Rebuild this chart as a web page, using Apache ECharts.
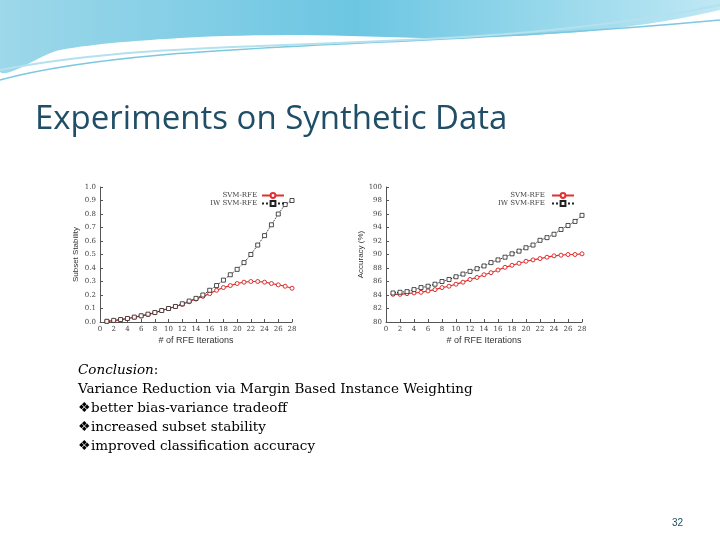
<!DOCTYPE html><html><head><meta charset="utf-8"><script src="https://cdn.jsdelivr.net/npm/echarts@6/dist/echarts.min.js"></script>
<style>body{margin:0}#c{width:720px;height:540px}</style></head><body><div id="c"></div><script>
const iters=[1,2,3,4,5,6,7,8,9,10,11,12,13,14,15,16,17,18,19,20,21,22,23,24,25,26,27,28];
const stabSVM=[0.005,0.01,0.018,0.025,0.035,0.045,0.055,0.07,0.085,0.1,0.115,0.13,0.15,0.17,0.19,0.21,0.235,0.255,0.27,0.285,0.295,0.3,0.3,0.295,0.285,0.275,0.265,0.25];
const stabIW=[0.005,0.012,0.018,0.026,0.036,0.046,0.058,0.07,0.085,0.1,0.115,0.135,0.155,0.175,0.2,0.235,0.27,0.31,0.35,0.39,0.44,0.5,0.57,0.64,0.72,0.8,0.87,0.9];
const accSVM=[84.1,84.1,84.2,84.3,84.4,84.6,84.8,85.1,85.3,85.6,85.9,86.3,86.6,87.0,87.3,87.7,88.1,88.4,88.7,89.0,89.2,89.4,89.6,89.8,89.9,90.0,90.0,90.1];
const accIW=[84.3,84.4,84.5,84.8,85.1,85.3,85.6,86.0,86.3,86.7,87.1,87.5,87.9,88.3,88.8,89.2,89.6,90.1,90.5,91.0,91.4,92.1,92.5,93.0,93.7,94.3,94.9,95.8];
const ch=echarts.init(document.getElementById('c'));
const pair=(a)=>iters.map((x,i)=>[x,a[i]]);
const xa=(g)=>({type:'value',gridIndex:g,min:0,max:28,interval:2,name:'# of RFE Iterations',nameLocation:'middle',nameGap:14,nameTextStyle:{fontSize:9,color:'#333'},axisLabel:{fontSize:7,color:'#444',margin:4,fontFamily:'DejaVu Serif'},axisTick:{inside:true,length:3},axisLine:{lineStyle:{color:'#555'}},splitLine:{show:false}});
const ls={fontSize:7,color:'#444',fontFamily:'DejaVu Serif'};
const svm={type:'line',symbol:'circle',symbolSize:4,itemStyle:{color:'#fff',borderColor:'#e03030',borderWidth:1},lineStyle:{color:'#e03030',width:1.2}};
const iw={type:'line',symbol:'rect',symbolSize:4,itemStyle:{color:'#fff',borderColor:'#222',borderWidth:0.8},lineStyle:{color:'#222',width:1,type:'dotted'}};
ch.setOption({animation:false,backgroundColor:'#fff',
grid:[{left:100,top:187,width:192,height:135},{left:386,top:187,width:196,height:135}],
xAxis:[xa(0),xa(1)],
yAxis:[{type:'value',gridIndex:0,min:0,max:1,interval:0.1,name:'Subset Stability',nameLocation:'middle',nameGap:20,nameTextStyle:{fontSize:8,color:'#333'},axisLabel:Object.assign({formatter:v=>v.toFixed(1),margin:4},ls),axisTick:{inside:true,length:3},axisLine:{show:true,lineStyle:{color:'#555'}},splitLine:{show:false}},
{type:'value',gridIndex:1,min:80,max:100,interval:2,name:'Accuracy (%)',nameLocation:'middle',nameGap:20,nameTextStyle:{fontSize:8,color:'#333'},axisLabel:Object.assign({margin:4},ls),axisTick:{inside:true,length:3},axisLine:{show:true,lineStyle:{color:'#555'}},splitLine:{show:false}}],
legend:[{right:430,top:187,orient:'vertical',itemGap:1,itemHeight:6,itemWidth:22,textStyle:{fontSize:7,color:'#444',fontFamily:'DejaVu Serif'},data:['SVM-RFE','IW SVM-RFE'],align:'right'},
{right:140,top:187,orient:'vertical',itemGap:1,itemHeight:6,itemWidth:22,textStyle:{fontSize:7,color:'#444',fontFamily:'DejaVu Serif'},data:['SVM-RFE ','IW SVM-RFE '],align:'right'}],
series:[Object.assign({name:'SVM-RFE',xAxisIndex:0,yAxisIndex:0,data:pair(stabSVM)},svm),Object.assign({name:'IW SVM-RFE',xAxisIndex:0,yAxisIndex:0,data:pair(stabIW)},iw),
Object.assign({name:'SVM-RFE ',xAxisIndex:1,yAxisIndex:1,data:pair(accSVM)},svm),Object.assign({name:'IW SVM-RFE ',xAxisIndex:1,yAxisIndex:1,data:pair(accIW)},iw)],
graphic:[
{type:'polygon',shape:{points:[[0,0],[720,0],[720,10],[600,30],[450,38],[300,35],[180,38],[60,50],[0,72]],smooth:0.3},style:{fill:{type:'linear',x:0,y:0,x2:1,y2:0,colorStops:[{offset:0,color:'#9fd8ea'},{offset:0.5,color:'#6cc6e2'},{offset:1,color:'#bfe8f4'}]}}},
{type:'bezierCurve',shape:{x1:0,y1:80,cpx1:150,cpy1:40,cpx2:400,cpy2:50,x2:720,y2:20},style:{fill:null,stroke:'#7cc8e0',lineWidth:1.5}},
{type:'bezierCurve',shape:{x1:0,y1:70,cpx1:200,cpy1:30,cpx2:450,cpy2:60,x2:720,y2:5},style:{fill:null,stroke:'#b5e0ee',lineWidth:2}},
{type:'text',left:35,top:103,style:{text:'Experiments on Synthetic Data',fontSize:33,fill:'#1f4e66',fontFamily:'Open Sans'}},
{type:'text',left:78,top:361,style:{text:'{u|Conclusion}:\nVariance Reduction via Margin Based Instance Weighting\n❖better bias-variance tradeoff\n❖increased subset stability\n❖improved classification accuracy',fontSize:13.5,lineHeight:19,fill:'#000',fontFamily:'DejaVu Serif',rich:{u:{fontStyle:'italic',textDecoration:'underline',fontSize:13.5,fontFamily:'DejaVu Serif'}}}},
{type:'text',left:672,top:518,style:{text:'32',fontSize:10,fill:'#1f4e66'}}
]});
</script></body></html>
